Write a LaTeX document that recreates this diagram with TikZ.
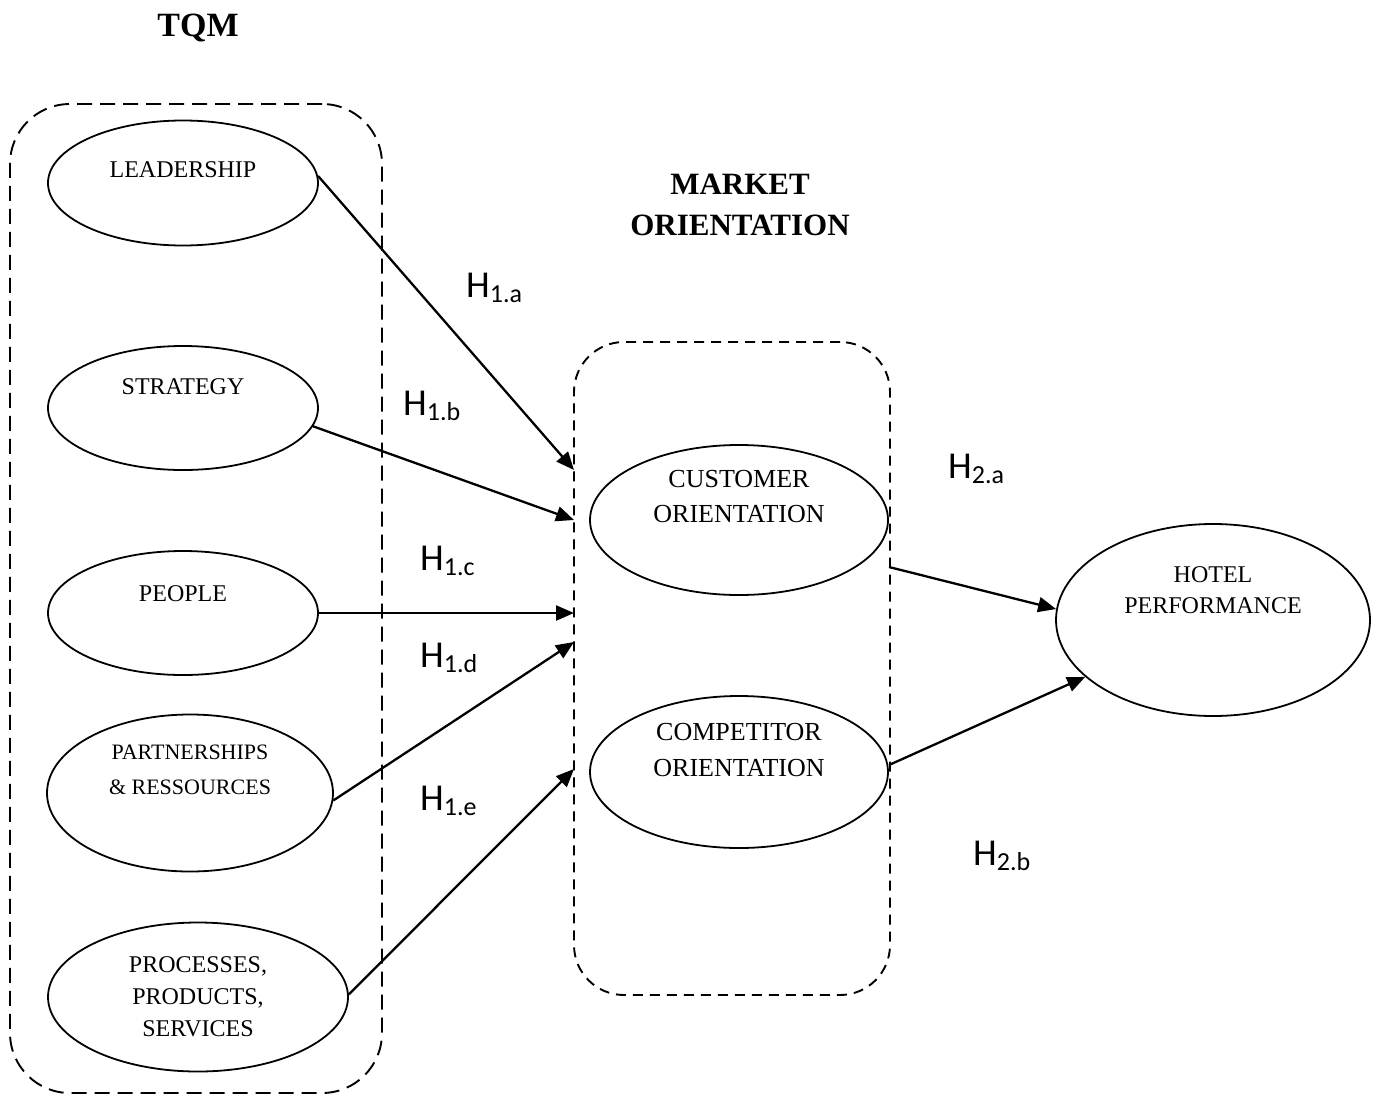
\documentclass[tikz,border=0pt]{standalone}
\usepackage{fontspec}
\setmainfont{Liberation Serif}
\newfontfamily\calfont{Carlito}
\usetikzlibrary{shapes.geometric,arrows.meta}
\newcommand\Hlab[1]{{\calfont\fontsize{38}{40}\selectfont H\raisebox{-5pt}{\fontsize{26}{28}\selectfont #1}}}
\tikzset{
  oval/.style={ellipse,draw,line width=1.8pt,inner sep=0pt},
  grp/.style={rectangle,draw,line width=1.9pt,inner sep=0pt},
  arr/.style={line width=2.3pt,-{Triangle[length=18pt,width=15pt]}},
  etxt/.style={font=\fontsize{24}{32}\selectfont,align=center},
  hl/.style={anchor=base west,inner sep=0pt},
  ttl/.style={font=\bfseries,align=center}
}
\begin{document}
\begin{tikzpicture}[x=1pt,y=-1pt]
\useasboundingbox (0,0) rectangle (1376,1095);
% titles
\node[ttl,font=\bfseries\fontsize{34}{36}\selectfont] (tqmt) at (198,28) {TQM};
\node[ttl,font=\bfseries\fontsize{31}{41}\selectfont] (mot) at (740,205) {MARKET\\ORIENTATION};
% group boxes
\node[grp,dash pattern=on 15pt off 8pt,rounded corners=60pt,minimum width=372pt,minimum height=989pt] (tqm) at (196,598.5) {};
\node[grp,dash pattern=on 10pt off 7pt,rounded corners=50pt,minimum width=316pt,minimum height=653pt] (mkt) at (732,668.5) {};
% TQM ellipses
\node[oval,minimum width=270pt,minimum height=125pt,label={[etxt,yshift=13pt]center:LEADERSHIP}] (lead) at (183,183) {};
\node[oval,minimum width=270pt,minimum height=124pt,label={[etxt,yshift=21pt]center:STRATEGY}] (strat) at (183,408) {};
\node[oval,minimum width=270pt,minimum height=124pt,label={[etxt,yshift=19pt]center:PEOPLE}] (people) at (183,613) {};
\node[oval,minimum width=286pt,minimum height=157pt,label={[etxt,font=\fontsize{22}{35}\selectfont,yshift=23pt]center:PARTNERSHIPS\\\& RESSOURCES}] (part) at (190,793) {};
\node[oval,minimum width=300pt,minimum height=149pt,label={[etxt,font=\fontsize{24}{32}\selectfont,yshift=0pt]center:PROCESSES,\\PRODUCTS,\\SERVICES}] (proc) at (198,997) {};
% market ellipses
\node[oval,minimum width=298pt,minimum height=150pt,label={[etxt,font=\fontsize{26}{35}\selectfont,yshift=23pt]center:CUSTOMER\\ORIENTATION}] (cust) at (739,520) {};
\node[oval,minimum width=298pt,minimum height=152pt,label={[etxt,font=\fontsize{26}{36}\selectfont,yshift=22pt]center:COMPETITOR\\ORIENTATION}] (comp) at (739,772) {};
% hotel
\node[oval,minimum width=314pt,minimum height=192pt,label={[etxt,font=\fontsize{24}{31}\selectfont,yshift=30pt]center:HOTEL\\PERFORMANCE}] (hotel) at (1213,620) {};
% arrow targets on market box edge
\coordinate (ta) at (574,470);
\coordinate (tb) at (574,520);
\coordinate (tc) at (574,613);
\coordinate (td) at (574,642);
\coordinate (te) at (574,769);
% arrow starts on market box right edge
\coordinate (sa) at (889,567);
\coordinate (sb) at (889,765);
% connectors
\draw[arr] (lead.3) -- (ta);
\draw[arr] (strat.-8) -- (tb);
\draw[arr] (people.east) -- (tc);
\draw[arr] (part.-3) -- (td);
\draw[arr] (proc.1.5) -- (te);
\draw[arr] (sa) -- (hotel.176.7);
\draw[arr] (sb) -- (hotel.204);
% hypothesis labels
\node[hl] (h1a) at (466,297) {\Hlab{1.a}};
\node[hl] (h1b) at (403,415) {\Hlab{1.b}};
\node[hl] (h1c) at (420,570) {\Hlab{1.c}};
\node[hl] (h1d) at (420,667) {\Hlab{1.d}};
\node[hl] (h1e) at (420,810) {\Hlab{1.e}};
\node[hl] (h2a) at (948,478) {\Hlab{2.a}};
\node[hl] (h2b) at (973,865) {\Hlab{2.b}};
\end{tikzpicture}
\end{document}
